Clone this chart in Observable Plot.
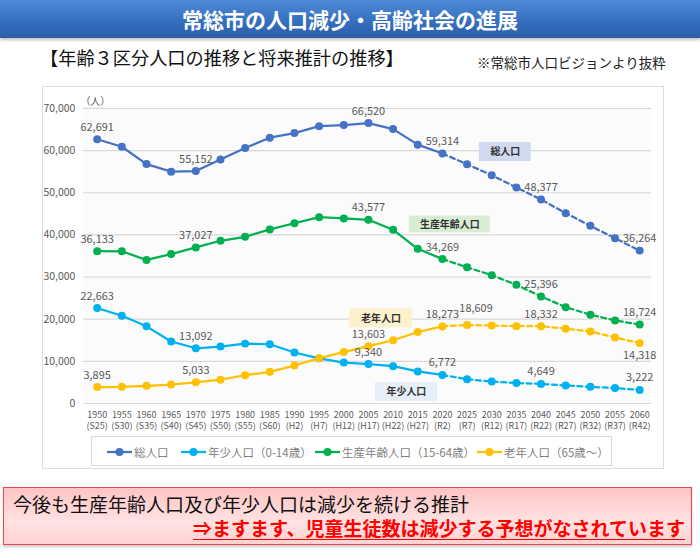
<!DOCTYPE html>
<html><head><meta charset="utf-8">
<script src="https://cdn.jsdelivr.net/npm/d3@7"></script>
<script src="https://cdn.jsdelivr.net/npm/@observablehq/plot@0.6"></script>
<style>
html,body{margin:0;padding:0;background:#fff;}
body{width:700px;height:553px;position:relative;overflow:hidden;font-family:"Noto Sans CJK JP","Noto Sans",sans-serif;}
#title{position:absolute;left:0;top:0;width:700px;height:38px;background:linear-gradient(#4f8ad6,#3570c0 55%,#2b5ea8);color:#fff;font-weight:bold;font-size:21px;line-height:38px;text-align:center;box-shadow:0 2px 3px rgba(0,0,0,0.25);}
#sub{position:absolute;left:40px;top:44px;font-size:18.2px;line-height:26px;color:#111;}
#note{position:absolute;left:477px;top:52px;font-size:13.5px;line-height:20px;color:#222;}
#chart{position:absolute;left:42px;top:86px;width:622px;height:383px;box-sizing:border-box;border:1.5px solid #dcdcdc;}
#chart svg{position:absolute;left:-1.5px;top:-1.5px;}
#legend{position:absolute;left:91px;top:436px;width:521px;height:30px;box-sizing:border-box;border:1px solid #d9d9d9;background:#fff;display:flex;align-items:center;font-size:11.5px;color:#7f7f7f;}
#legend .it{display:flex;align-items:center;position:absolute;top:7px;}
#legend svg{margin-right:2px;}
#box{position:absolute;left:3px;top:487px;width:689px;height:58px;box-sizing:border-box;border:1.5px solid #e5484d;background:linear-gradient(#ffc4c4,#ffe2e2 60%,#ffd2d2);box-shadow:0 2px 2px rgba(0,0,0,0.2);}
#l1{position:absolute;left:9px;top:3px;font-size:19px;line-height:26px;color:#111;}
#l2{position:absolute;right:6px;top:27px;font-size:19px;line-height:26px;color:#ff0000;font-weight:bold;text-decoration:underline;text-underline-offset:3px;}
</style></head>
<body>
<div id="title">常総市の人口減少・高齢社会の進展</div>
<div id="sub">【年齢３区分人口の推移と将来推計の推移】</div>
<div id="note">※常総市人口ビジョンより抜粋</div>
<div id="chart"></div>
<div id="legend"></div>
<div id="box">
  <div id="l1">今後も生産年齢人口及び年少人口は減少を続ける推計</div>
  <div id="l2">⇒ますます、児童生徒数は減少する予想がなされています</div>
</div>
<script>
const years = [1950,1955,1960,1965,1970,1975,1980,1985,1990,1995,2000,2005,2010,2015,2020,2025,2030,2035,2040,2045,2050,2055,2060];
const eras = ["S25","S30","S35","S40","S45","S50","S55","S60","H2","H7","H12","H17","H22","H27","R2","R7","R12","R17","R22","R27","R32","R37","R42"];
const seriesNames = ["総人口","年少人口（0-14歳）","生産年齢人口（15-64歳）","老年人口（65歳～）"];
const seriesColors = ["#4472c4","#00b0f0","#00b050","#ffc000"];
const total   = [62691,60900,56800,55000,55152,57900,60600,63050,64150,65800,66050,66520,65100,61400,59314,56750,54150,51250,48377,45150,42150,39200,36264];
const youth   = [22663,20800,18300,14700,13092,13500,14200,14050,12100,10700,9700,9340,8850,7600,6772,5750,5200,4850,4649,4250,3950,3650,3222];
const working = [36133,36100,34050,35450,37027,38600,39550,41300,42750,44200,43900,43577,41200,36700,34269,32300,30450,28150,25396,22850,21050,19700,18724];
const elderly = [3895,3950,4200,4500,5033,5650,6700,7500,9000,10750,12200,13603,15000,16950,18273,18609,18500,18350,18332,17750,17100,15650,14318];
const labeledYears = [
  [1950,1970,2005,2020,2040,2060],
  [1950,1970,2005,2020,2040,2060],
  [1950,1970,2005,2020,2040,2060],
  [1950,1970,2005,2020,2025,2040,2060]
];
const yTicks = [0,10000,20000,30000,40000,50000,60000,70000];
const projectionStart = 2020;

const allValues = [total, youth, working, elderly];
const rows = [];
allValues.forEach((vals, s) => vals.forEach((v, i) => rows.push({series: seriesNames[s], year: years[i], value: v})));
const hist = rows.filter(d => d.year <= projectionStart);
const proj = rows.filter(d => d.year >= projectionStart);
const labels = [];
allValues.forEach((vals, s) => labeledYears[s].forEach(y => labels.push({series: seriesNames[s], year: y, value: vals[years.indexOf(y)], s})));
const isBelow = d => d.s === 3 && d.year === 2060;
const isSide = d => d.s === 3 && d.year === 2025;
const labNormal = labels.filter(d => !isBelow(d) && !isSide(d));
const labBelow = labels.filter(isBelow);
const labSide = labels.filter(isSide);

// annotation boxes (data units)
const annos = [
  {text:"総人口", x1:2027.5, x2:2038, y1:57400, y2:61900, fill:"#cfdaf0"},
  {text:"生産年齢人口", x1:2013.3, x2:2029.7, y1:40450, y2:44450, fill:"#d9edd4"},
  {text:"老年人口", x1:2001.2, x2:2013.9, y1:17950, y2:22450, fill:"#fdf0cc"},
  {text:"年少人口", x1:2006.4, x2:2019, y1:500, y2:4950, fill:"#e7eef8"}
];

const color = {domain: seriesNames, range: seriesColors};
const fmt = d3.format(",");

const plot = Plot.plot({
  width: 622, height: 383,
  marginLeft: 41, marginRight: 11, marginTop: 22, marginBottom: 65,
  style: {fontFamily: "'Noto Sans CJK JP', sans-serif", background: "transparent", overflow: "visible"},
  x: {domain: [1947.2, 2062.4]},
  y: {domain: [0, 70000]},
  color,
  marks: [
    Plot.frame({fill: "#fbfbfb", stroke: null}),
    Plot.gridY(yTicks, {stroke: "#d9d9d9", strokeOpacity: 1, strokeWidth: 1.2}),
    Plot.axisY(yTicks, {tickSize: 0, tickPadding: 8, tickFormat: fmt, fontSize: 10.5, fill: "#595959", label: null}),
    Plot.axisX(years, {tickSize: 0, tickPadding: 6, fontSize: 9, lineHeight: 1.3, fill: "#595959", label: null,
      tickFormat: d => `${d}\n(${eras[years.indexOf(d)]})`}),
    Plot.text(["（人）"], {frameAnchor: "top-left", dx: -3, dy: -11, fontSize: 10, fill: "#595959"}),
    Plot.rect(annos, {x1: "x1", x2: "x2", y1: "y1", y2: "y2", fill: "fill"}),
    Plot.text(annos, {x: d => (d.x1 + d.x2) / 2, y: d => (d.y1 + d.y2) / 2, text: "text", fontWeight: "bold", fontSize: 10, fill: "#333"}),
    Plot.line(hist, {x: "year", y: "value", z: "series", stroke: "series", strokeWidth: 2.25}),
    Plot.line(proj, {x: "year", y: "value", z: "series", stroke: "series", strokeWidth: 2.25, strokeDasharray: "5,3.5"}),
    Plot.dot(rows, {x: "year", y: "value", fill: "series", r: 4}),
    Plot.text(labNormal, {x: "year", y: "value", text: d => fmt(d.value), dy: -12, fontSize: 11, fill: "#595959"}),
    Plot.text(labBelow, {x: "year", y: "value", text: d => fmt(d.value), dy: 12, fontSize: 11, fill: "#595959"}),
    Plot.text(labSide, {x: "year", y: "value", text: d => fmt(d.value), dx: 9, dy: -17, fontSize: 11, fill: "#595959"})
  ]
});
document.getElementById("chart").appendChild(plot);

// legend
const leg = document.getElementById("legend");
const legX = [15, 89, 223, 385];
seriesNames.forEach((n, i) => {
  const it = document.createElement("div");
  it.className = "it";
  it.style.left = legX[i] + "px";
  it.innerHTML = `<svg width="25" height="14"><line x1="0" x2="25" y1="7" y2="7" stroke="${seriesColors[i]}" stroke-width="2.25"/><circle cx="12.5" cy="7" r="4" fill="${seriesColors[i]}"/></svg><span>${n}</span>`;
  leg.appendChild(it);
});
</script>
</body></html>
